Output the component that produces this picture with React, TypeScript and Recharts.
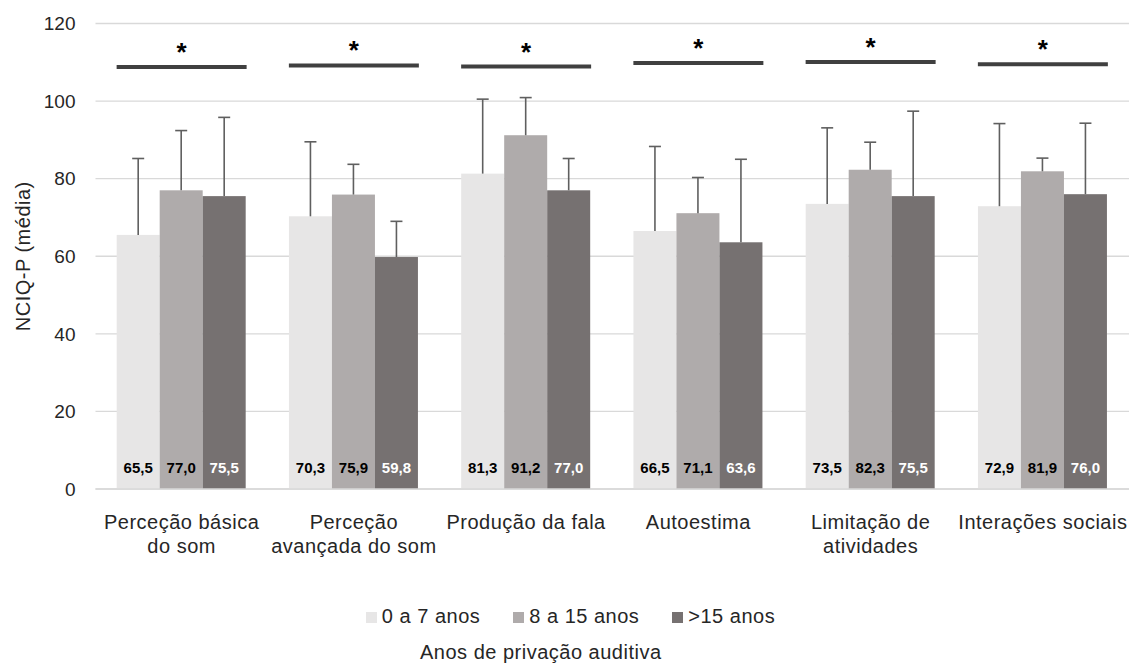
import { ComposedChart, Bar, Scatter, XAxis, YAxis, CartesianGrid, LabelList } from "recharts";

const categories = [
  "Perceção básica\ndo som",
  "Perceção\navançada do som",
  "Produção da fala",
  "Autoestima",
  "Limitação de\natividades",
  "Interações sociais",
];
const mean0a7 = [65.5, 70.3, 81.3, 66.5, 73.5, 72.9];
const mean8a15 = [77.0, 75.9, 91.2, 71.1, 82.3, 81.9];
const meanMais15 = [75.5, 59.8, 77.0, 63.6, 75.5, 76.0];
const dp0a7 = [19.7, 19.2, 19.2, 21.8, 19.6, 21.3];
const dp8a15 = [15.4, 7.8, 9.7, 9.2, 7.1, 3.4];
const dpMais15 = [20.3, 9.2, 8.2, 21.4, 21.9, 18.3];
const significancia = [108.8, 109.2, 108.9, 109.8, 110.1, 109.5];
const yTicks = [0, 20, 40, 60, 80, 100, 120];

const series = [
  { key: "g1", err: "e1", name: "0 a 7 anos", color: "#e7e6e6", label: "#000000" },
  { key: "g2", err: "e2", name: "8 a 15 anos", color: "#afabab", label: "#000000" },
  { key: "g3", err: "e3", name: ">15 anos", color: "#767171", label: "#ffffff" },
];

const data = categories.map((category, i) => ({
  category,
  g1: mean0a7[i],
  g2: mean8a15[i],
  g3: meanMais15[i],
  e1: dp0a7[i],
  e2: dp8a15[i],
  e3: dpMais15[i],
  sig: significancia[i],
}));

const FONT = '"Liberation Sans", Arial, sans-serif';
const TEXT = "#262626";

// bar + upper-only error bar
const makeBarShape = (valKey: string, errKey: string) => (props: any) => {
  const { x, y, width, height, fill, payload } = props;
  const perUnit = height / payload[valKey];
  const top = y - payload[errKey] * perUnit;
  const cx = x + width / 2;
  return (
    <g>
      <rect x={x} y={y} width={width} height={height} fill={fill} />
      <line x1={cx} y1={y} x2={cx} y2={top} stroke="#5f5f5f" strokeWidth={1.6} />
      <line x1={cx - 6} y1={top} x2={cx + 6} y2={top} stroke="#5f5f5f" strokeWidth={1.6} />
    </g>
  );
};

const makeValueLabel = (color: string) => (props: any) => {
  const { x, y, width, height, value } = props;
  return (
    <text
      x={x + width / 2}
      y={y + height - 16}
      textAnchor="middle"
      fontFamily={FONT}
      fontSize={15}
      fontWeight="bold"
      fill={color}
    >
      {Number(value).toFixed(1).replace(".", ",")}
    </text>
  );
};

const SigShape = (props: any) => {
  const { cx, cy } = props;
  return (
    <g>
      <line x1={cx - 65} y1={cy} x2={cx + 65} y2={cy} stroke="#404040" strokeWidth={4} />
      <text x={cx} y={cy - 6} textAnchor="middle" fontFamily={FONT} fontSize={26} fontWeight="bold" fill="#000">
        *
      </text>
    </g>
  );
};

const CategoryTick = (props: any) => {
  const { x, y, payload } = props;
  const lines = String(payload.value).split("\n");
  return (
    <text x={x} y={y} textAnchor="middle" fontFamily={FONT} fontSize={20} letterSpacing={0.5} fill={TEXT}>
      {lines.map((l, i) => (
        <tspan key={i} x={x} dy={i === 0 ? 32 : 24}>
          {l}
        </tspan>
      ))}
    </text>
  );
};

const YLabel = (props: any) => {
  const { viewBox } = props;
  const cx = 23;
  const cy = viewBox.y + viewBox.height / 2;
  return (
    <text
      x={cx}
      y={cy}
      transform={`rotate(-90, ${cx}, ${cy})`}
      textAnchor="middle"
      dominantBaseline="central"
      fontFamily={FONT}
      fontSize={20}
      letterSpacing={0.5}
      fill={TEXT}
    >
      NCIQ-P (média)
    </text>
  );
};

export default function App() {
  return (
    <div style={{ position: "absolute", left: 0, top: 0, width: 1132, height: 663, background: "#fff" }}>
      <ComposedChart
        width={1132}
        height={663}
        data={data}
        margin={{ top: 23.5, right: 3, left: 0, bottom: 114 }}
        barCategoryGap="12.3%"
        barGap={0}
      >
        <CartesianGrid vertical={false} stroke="#d9d9d9" strokeWidth={1.3} />
        <XAxis
          dataKey="category"
          height={60}
          interval={0}
          tickLine={false}
          axisLine={{ stroke: "#d9d9d9", strokeWidth: 1.3 }}
          tick={<CategoryTick />}
        />
        <YAxis
          width={95.5}
          domain={[0, 120]}
          ticks={yTicks}
          axisLine={false}
          tickLine={false}
          tickSize={0}
          tickMargin={20}
          tick={{ fontSize: 19, fill: TEXT, fontFamily: FONT }}
          label={<YLabel />}
        />
        {series.map((s) => (
          <Bar
            key={s.key}
            dataKey={s.key}
            name={s.name}
            fill={s.color}
            isAnimationActive={false}
            shape={makeBarShape(s.key, s.err)}
          >
            <LabelList dataKey={s.key} content={makeValueLabel(s.label)} />
          </Bar>
        ))}
        <Scatter dataKey="sig" isAnimationActive={false} shape={<SigShape />} />
      </ComposedChart>
      <div
        style={{
          position: "absolute",
          left: 0,
          top: 605,
          width: 1132,
          display: "flex",
          justifyContent: "center",
          gap: 33,
          paddingLeft: 9,
          boxSizing: "border-box",
          fontFamily: FONT,
          fontSize: 20,
          letterSpacing: 0.5,
          lineHeight: "22px",
          color: TEXT,
        }}
      >
        {series.map((s) => (
          <div key={s.key} style={{ display: "flex", alignItems: "center" }}>
            <span style={{ display: "inline-block", width: 11, height: 11, background: s.color, marginRight: 5, marginTop: 3 }} />
            <span>{s.name}</span>
          </div>
        ))}
      </div>
      <div
        style={{
          position: "absolute",
          left: 420,
          top: 641,
          fontFamily: FONT,
          fontSize: 20,
          letterSpacing: 0.5,
          lineHeight: "22px",
          color: TEXT,
          whiteSpace: "nowrap",
        }}
      >
        Anos de privação auditiva
      </div>
    </div>
  );
}
